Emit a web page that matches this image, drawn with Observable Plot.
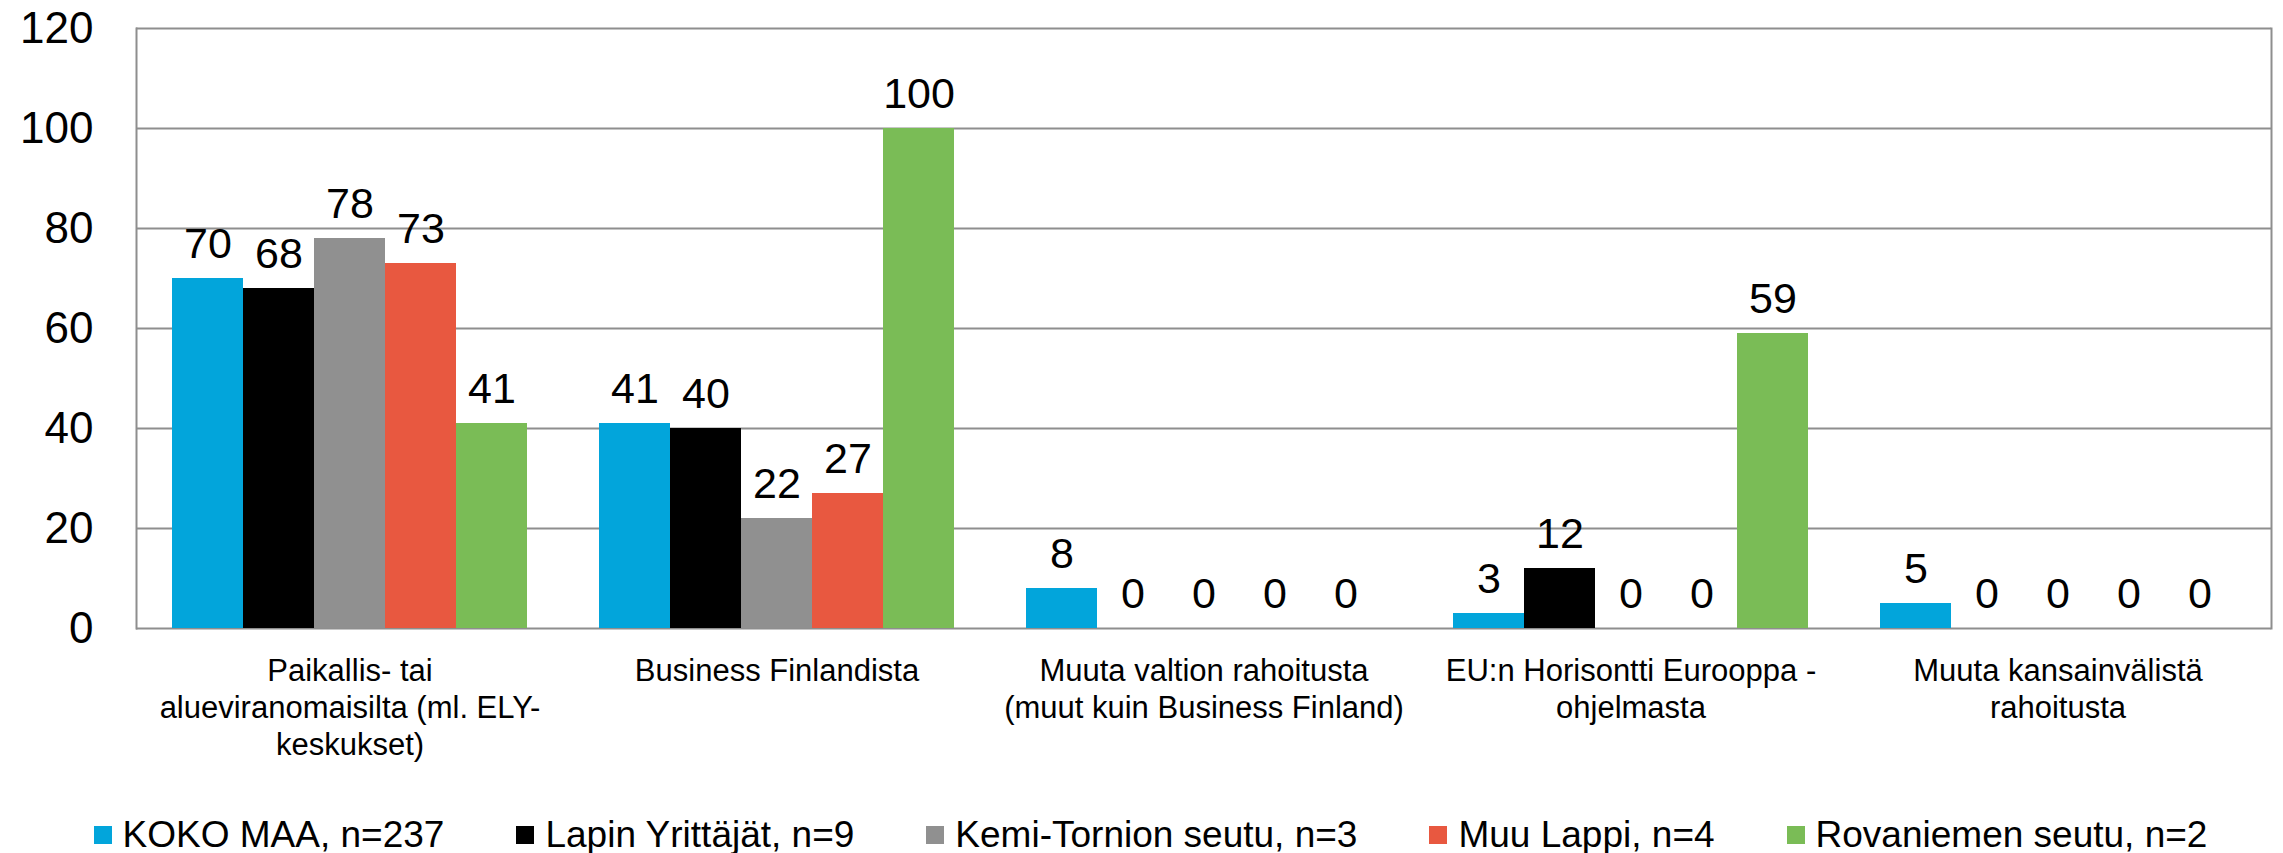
<!DOCTYPE html>
<html>
<head>
<meta charset="utf-8">
<script src="https://cdn.jsdelivr.net/npm/d3@7"></script>
<script src="https://cdn.jsdelivr.net/npm/@observablehq/plot@0.6"></script>
<style>
  html, body { margin: 0; padding: 0; background: #fff; }
  #chart { width: 2283px; }
  #legend {
    box-sizing: border-box;
    display: flex; justify-content: center; align-items: center; gap: 72px;
    padding-top: 27px; padding-left: 18px; height: 63px; width: 2283px;
    font-family: "Liberation Sans", Arial, sans-serif; font-size: 37px; line-height: 36px; color: #000;
    white-space: nowrap;
  }
  #legend .item { display: flex; align-items: center; }
  #legend .sw { width: 18px; height: 18px; margin-right: 11px; display: inline-block; }
</style>
</head>
<body>
<div id="chart"></div>
<div id="legend"></div>
<script>
const categories = [
  "Paikallis- tai\nalueviranomaisilta (ml. ELY-\nkeskukset)",
  "Business Finlandista",
  "Muuta valtion rahoitusta\n(muut kuin Business Finland)",
  "EU:n Horisontti Eurooppa -\nohjelmasta",
  "Muuta kansainvälistä\nrahoitusta"
];
const series = ["KOKO MAA, n=237", "Lapin Yrittäjät, n=9", "Kemi-Tornion seutu, n=3", "Muu Lappi, n=4", "Rovaniemen seutu, n=2"];
const kokoMaa = [70, 41, 8, 3, 5];
const lapinYrittajat = [68, 40, 0, 12, 0];
const kemiTornio = [78, 22, 0, 0, 0];
const muuLappi = [73, 27, 0, 0, 0];
const rovaniemi = [41, 100, 0, 59, 0];
const yTicks = [0, 20, 40, 60, 80, 100, 120];
const colors = ["#02A5DB", "#000000", "#909090", "#E85840", "#7ABC56"];

const seriesValues = [kokoMaa, lapinYrittajat, kemiTornio, muuLappi, rovaniemi];
const rows = [];
categories.forEach((c, i) => {
  series.forEach((s, j) => rows.push({category: c, series: s, value: seriesValues[j][i]}));
});

const gridColor = "#8e8e8e";
const chart = Plot.plot({
  width: 2283,
  height: 790,
  marginLeft: 134,
  marginRight: 10,
  marginTop: 28,
  marginBottom: 162,
  style: {fontFamily: "'Liberation Sans', Arial, sans-serif", background: "white", color: "#000"},
  fx: {domain: categories, padding: 0, label: null},
  x: {domain: series, paddingInner: 0, paddingOuter: 0.5, axis: null},
  y: {domain: [0, 120], label: null},
  color: {domain: series, range: colors},
  marks: [
    Plot.gridY({ticks: yTicks, stroke: gridColor, strokeOpacity: 1, strokeWidth: 2}),
    Plot.frame({anchor: "left", facetAnchor: "left", stroke: gridColor, strokeWidth: 2}),
    Plot.frame({anchor: "right", facetAnchor: "right", stroke: gridColor, strokeWidth: 2}),
    Plot.barY(rows, {fx: "category", x: "series", y: "value", fill: "series"}),
    Plot.text(rows, {fx: "category", x: "series", y: "value", text: d => String(d.value), lineAnchor: "bottom", dy: -21, fontSize: 43, fill: "#000"}),
    Plot.axisY({ticks: yTicks, tickSize: 0, tickPadding: 43, fontSize: 44, label: null}),
    Plot.axisFx({anchor: "bottom", tickSize: 0, tickPadding: 27, fontSize: 31, lineHeight: 1.18, label: null})
  ]
});
document.getElementById("chart").appendChild(chart);

const legend = document.getElementById("legend");
series.forEach((s, j) => {
  const item = document.createElement("div");
  item.className = "item";
  const sw = document.createElement("span");
  sw.className = "sw";
  sw.style.background = colors[j];
  const t = document.createElement("span");
  t.textContent = s;
  item.appendChild(sw);
  item.appendChild(t);
  legend.appendChild(item);
});
</script>
</body>
</html>
